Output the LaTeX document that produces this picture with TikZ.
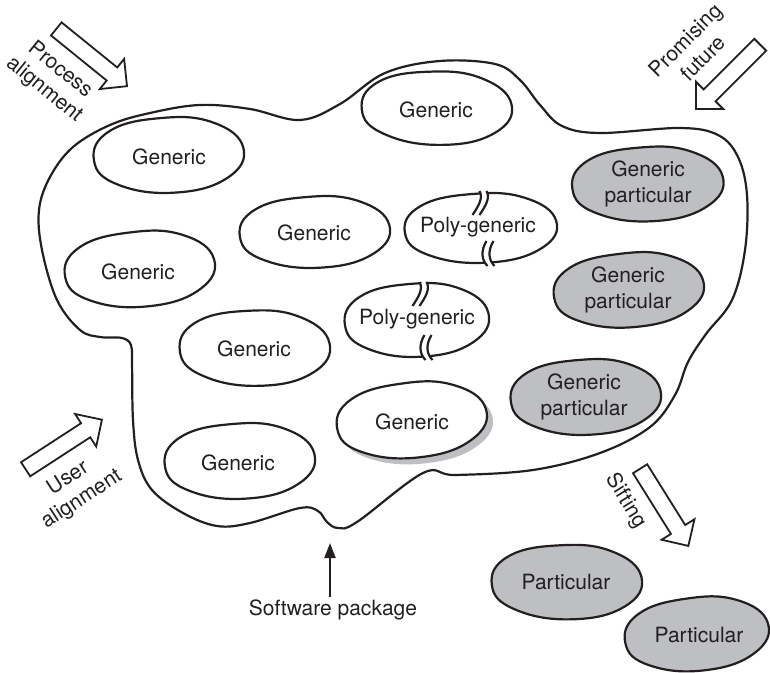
\documentclass[tikz,border=0pt]{standalone}
\usepackage{fontspec}
\setmainfont{TeX Gyre Heros}
\usetikzlibrary{arrows.meta,shapes.arrows}
\definecolor{ink}{HTML}{231F20}
\definecolor{blobgray}{RGB}{190,191,194}

% potato outline: style, centre, half width, half height, turn
\newcommand{\blobpath}[5]{%
  \path[#1, shift={#2}, rotate=#5] plot[smooth cycle, tension=0.75] coordinates {
    ({-1.00*#3},{ 0.15*#4}) ({-0.80*#3},{-0.62*#4}) ({-0.12*#3},{-0.97*#4})
    ({ 0.58*#3},{-0.86*#4}) ({ 0.99*#3},{-0.20*#4}) ({ 0.78*#3},{ 0.60*#4})
    ({ 0.08*#3},{ 0.99*#4}) ({-0.68*#3},{ 0.78*#4})};
}
% torn edge marks: top point, bottom point
\newcommand{\tearmarks}[2]{%
  \begin{scope}[shift={#1}]
    \draw[tearcut] (0,-3) .. controls (4,4) and (-1,12) .. (-7,21);
    \draw[blobline] (-3.5,-3) .. controls (0.5,4) and (-4.5,12) .. (-10.5,21);
    \draw[blobline] (3.5,-3) .. controls (7.5,4) and (2.5,12) .. (-3.5,21);
  \end{scope}
  \begin{scope}[shift={#2}]
    \draw[tearcut] (0,-22) .. controls (-6,-12) and (-5,-3) .. (1,3);
    \draw[blobline] (-3.5,-22) .. controls (-9.5,-12) and (-8.5,-3) .. (-2.5,3);
    \draw[blobline] (3.5,-22) .. controls (-2.5,-12) and (-1.5,-3) .. (4.5,3);
  \end{scope}
}

\begin{document}
\begin{tikzpicture}[x=0.5pt, y=-0.5pt,
  blobline/.style ={draw=ink, line width=1.1pt},
  blobwhite/.style={blobline, fill=white},
  blobgrey/.style ={blobline, fill=blobgray},
  blobshade/.style={fill=blobgray, xshift=3pt, yshift=-3pt},
  tearcut/.style  ={white, line width=2.6pt},
  outline/.style  ={draw=ink, line width=1.1pt},
  label/.style    ={font=\fontsize{10.5}{12.6}\selectfont, text=ink, align=center, inner sep=1pt},
  hollow/.style   ={single arrow, draw=ink, fill=white, line width=0.9pt, minimum height=45.5pt,
                    inner xsep=0pt, inner ysep=3.75pt, single arrow head extend=5.5pt,
                    single arrow tip angle=90, single arrow head indent=0pt, anchor=tip},
  pointer/.style  ={draw=ink, line width=1pt, -{Triangle[length=7.5pt, width=5.5pt]}},
]
\useasboundingbox (0,0) rectangle (770,673);

% the software package
\draw[outline] plot[smooth cycle, tension=0.6] coordinates {
  (150,113) (200,105) (250,109) (300,120) (340,104) (385,73) (440,61) (495,64)
  (520,80) (540,105) (562,126) (600,133) (680,128) (718,135) (738,157) (747,195)
  (745,250) (732,300) (706,334) (688,362) (675,395) (650,427) (600,453) (533,470)
  (455,475) (423,473) (357,522) (338,528) (327,522) (318,511) (300,508) (250,523)
  (217,526) (183,513) (152,490) (138,460) (133,420) (132,362) (131,345) (122,338)
  (100,337) (80,330) (57,300) (42,250) (39,210) (50,177) (73,147) (110,125)};

% generic parts
\blobpath{blobwhite}{(169,155)}{75}{38}{0}
\node[label] (genA) at (169,157) {Generic};
\blobpath{blobwhite}{(437,108)}{75}{37}{-3}
\node[label] (genTop) at (436,110) {Generic};
\blobpath{blobwhite}{(140,269)}{75}{38}{2}
\node[label] (genB) at (138,272) {Generic};
\blobpath{blobwhite}{(315,232)}{75}{36}{0}
\node[label] (genE) at (314,233) {Generic};
\blobpath{blobwhite}{(255,348)}{75}{38}{-2}
\node[label] (genC) at (254,349) {Generic};
\blobpath{blobshade}{(412,420)}{75}{38}{3}
\blobpath{blobwhite}{(412,420)}{75}{38}{3}
\node[label] (genShade) at (412,422) {Generic};
\blobpath{blobwhite}{(240,461)}{75}{38}{0}
\node[label] (genD) at (238,463) {Generic};

% poly-generic parts
\blobpath{blobwhite}{(481,228)}{76}{35}{0}
\tearmarks{(483,194)}{(490,263)}
\node[label] (polyA) at (478,227) {Poly-generic};
\blobpath{blobwhite}{(417,320)}{72}{37}{0}
\tearmarks{(423,285)}{(428,357)}
\node[label] (polyB) at (417,319) {Poly-generic};

% generic particular parts
\blobpath{blobgrey}{(648,184)}{75.5}{37.5}{0}
\node[label] (gpA) at (648,184) {Generic\\particular};
\blobpath{blobgrey}{(629,290)}{75}{37.5}{2}
\node[label] (gpB) at (628,290) {Generic\\particular};
\blobpath{blobgrey}{(586,397)}{75}{38}{0}
\node[label] (gpC) at (584,397) {Generic\\particular};

% particular parts, sifted out
\blobpath{blobgrey}{(567,582)}{75}{37.5}{-2}
\node[label] (partA) at (566,582) {Particular};
\blobpath{blobgrey}{(697,634)}{72}{37}{3}
\node[label] (partB) at (699,635) {Particular};

% forces on the package
\node[hollow, rotate=-39] (procArrow) at (128,87) {};
\node[label, rotate=-39] (procText) at (52,80) {Process\\alignment};
\node[hollow, rotate=-135] (futArrow) at (695,110) {};
\node[label, rotate=45] (futText) at (694,49) {Promising\\future};
\node[hollow, rotate=33] (userArrow) at (103,419) {};
\node[label, rotate=33] (userText) at (75,489) {User\\alignment};
\node[hollow, rotate=-58] (siftArrow) at (689,547) {};
\node[label, rotate=-58] (siftText) at (626,501) {Sifting};

\node[label] (sw) at (333,610) {Software package};
\coordinate (swTip) at (330,543);
\draw[pointer] (sw.north -| swTip) -- (swTip);
\end{tikzpicture}
\end{document}
